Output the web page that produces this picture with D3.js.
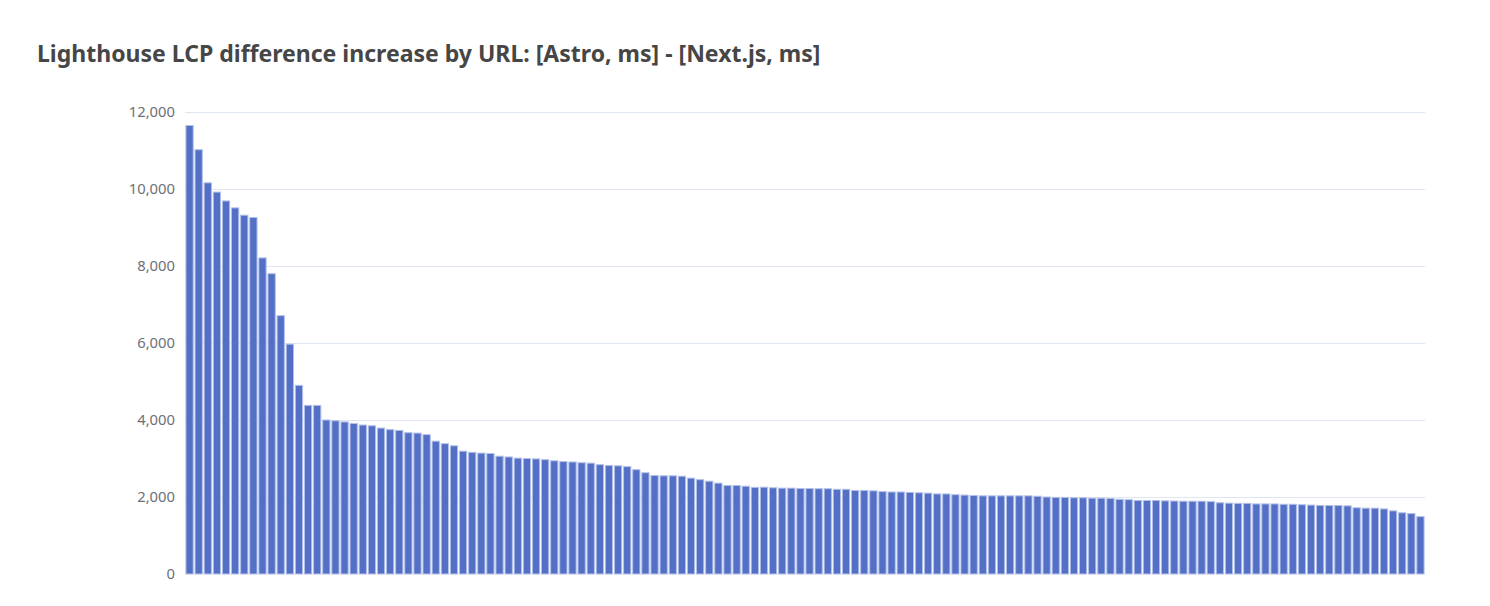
<!DOCTYPE html>
<html>
<head>
<meta charset="utf-8">
<script src="https://cdn.jsdelivr.net/npm/d3@7"></script>
<style>
  html, body { margin: 0; padding: 0; background: #fff; }
  svg { display: block; }
</style>
</head>
<body>
<svg id="chart" width="1490" height="606"></svg>
<script>
const titleText = "Lighthouse LCP difference increase by URL: [Astro, ms] - [Next.js, ms]";
const yTicks = [0, 2000, 4000, 6000, 8000, 10000, 12000];
const values = [
  11650, 11020, 10160, 9920, 9690, 9510, 9320, 9260, 8210, 7800,
  6710, 5970, 4900, 4380, 4380, 4000, 3980, 3950, 3910, 3870,
  3850, 3790, 3750, 3730, 3670, 3660, 3620, 3450, 3385, 3330,
  3190, 3160, 3140, 3130, 3060, 3040, 3010, 3000, 2990, 2970,
  2940, 2920, 2910, 2890, 2880, 2840, 2820, 2810, 2790, 2710,
  2630, 2560, 2550, 2550, 2540, 2490, 2450, 2410, 2360, 2300,
  2300, 2280, 2250, 2255, 2240, 2230, 2230, 2220, 2220, 2215,
  2215, 2200, 2200, 2170, 2170, 2160, 2140, 2130, 2130, 2120,
  2110, 2100, 2080, 2080, 2060, 2050, 2040, 2030, 2030, 2030,
  2030, 2030, 2030, 2020, 2000, 1990, 1990, 1980, 1980, 1970,
  1970, 1960, 1940, 1930, 1910, 1910, 1910, 1900, 1895, 1890,
  1890, 1890, 1880, 1850, 1840, 1835, 1835, 1820, 1820, 1820,
  1810, 1810, 1800, 1790, 1780, 1780, 1780, 1770, 1720, 1710,
  1710, 1690, 1640, 1590, 1570, 1490
];
const categories = values.map((v, i) => "URL " + (i + 1));

(function () {
  const svg = d3.select("#chart");
  const pLeft = 185, pRight = 1425, pTop = 112, pBottom = 574;

  const x = d3.scaleBand().domain(categories).range([pLeft, pRight])
    .paddingInner(0.2).paddingOuter(0.1);
  const y = d3.scaleLinear().domain([0, 12000]).range([pBottom, pTop]);

  // Title
  const title = svg.append("text")
    .attr("x", 37).attr("y", 62)
    .attr("font-family", "'Noto Sans', 'Open Sans', sans-serif")
    .attr("font-weight", "bold")
    .attr("font-size", 21)
    .attr("fill", "#464646")
    .text(titleText);
  const tw = title.node().getComputedTextLength();
  title.attr("font-size", 21 * 784 / tw);

  // Grid lines
  svg.append("g").selectAll("line").data(yTicks.filter(d => d > 0)).join("line")
    .attr("x1", pLeft).attr("x2", pRight)
    .attr("y1", d => Math.round(y(d)) + 0.5).attr("y2", d => Math.round(y(d)) + 0.5)
    .attr("stroke", "#e0e6f1").attr("stroke-width", 1);

  // Y axis labels
  const yAxis = d3.axisLeft(y).tickValues(yTicks).tickSize(0).tickPadding(10)
    .tickFormat(d3.format(","));
  const ya = svg.append("g").attr("transform", `translate(${pLeft},0)`).call(yAxis);
  ya.select(".domain").remove();
  ya.selectAll("text")
    .attr("font-family", "'Noto Sans', 'Open Sans', sans-serif")
    .attr("font-size", 14.8)
    .attr("fill", "#6e7079");

  // Bars
  svg.append("g").selectAll("rect").data(values).join("rect")
    .attr("x", (d, i) => x(categories[i]))
    .attr("width", x.bandwidth())
    .attr("y", d => y(d))
    .attr("height", d => y(0) - y(d))
    .attr("fill", "#5470c6")
    .attr("stroke", "#b3c0e8")
    .attr("stroke-width", 1);
})();
</script>
</body>
</html>
